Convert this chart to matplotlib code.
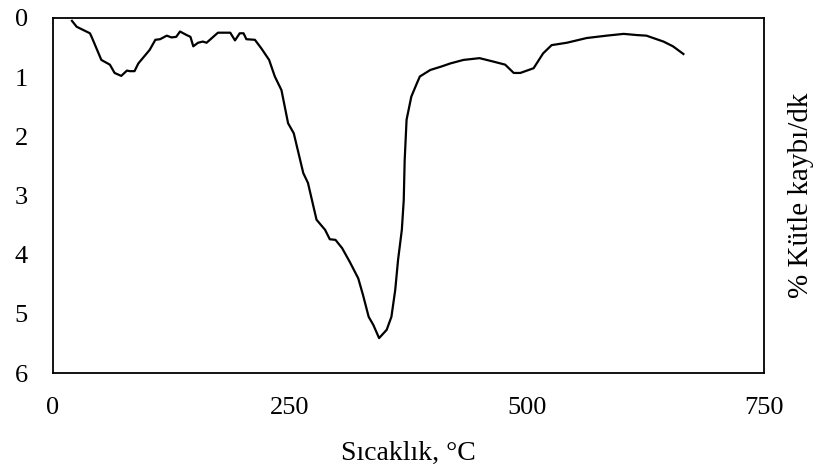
import matplotlib
matplotlib.use("Agg")
import matplotlib.pyplot as plt

# DTG curve
temp = [20, 25, 39, 41, 51, 60, 65, 72, 78, 81,
        86, 90, 102, 108, 113, 120, 125, 130, 134, 141,
        145, 148, 153, 158, 162, 174, 187, 192, 197, 201,
        204, 213, 220, 228, 234, 241, 248, 254, 264, 269,
        278, 287, 292, 298, 305, 313, 322, 327, 333, 338,
        344, 352, 357, 361, 364, 368, 370, 371, 373, 378,
        384, 387, 398, 410, 419, 433, 450, 465, 477, 486,
        493, 507, 517, 526, 542, 563, 584, 602, 616, 626,
        644, 654, 665]
rate = [0.05, 0.15, 0.26, 0.33, 0.71, 0.79, 0.93, 0.98, 0.89, 0.90,
        0.90, 0.77, 0.54, 0.37, 0.36, 0.30, 0.33, 0.32, 0.23, 0.29,
        0.32, 0.48, 0.42, 0.40, 0.42, 0.25, 0.25, 0.38, 0.26, 0.26,
        0.36, 0.37, 0.52, 0.71, 0.99, 1.22, 1.78, 1.95, 2.62, 2.79,
        3.41, 3.58, 3.74, 3.75, 3.89, 4.12, 4.40, 4.68, 5.05, 5.19,
        5.41, 5.27, 5.05, 4.60, 4.09, 3.58, 3.08, 2.40, 1.72, 1.33,
        1.10, 0.99, 0.88, 0.82, 0.77, 0.71, 0.68, 0.74, 0.79, 0.93,
        0.93, 0.85, 0.60, 0.46, 0.42, 0.34, 0.30, 0.27, 0.29, 0.30,
        0.40, 0.48, 0.61]

xticks = [0, 250, 500, 750]
yticks = [0, 1, 2, 3, 4, 5, 6]

plt.rcParams["font.family"] = ["Liberation Serif", "DejaVu Serif"]

fig = plt.figure(figsize=(8.19, 4.71), dpi=100)
ax = fig.add_axes([0.0647, 0.208, 0.8681, 0.754])

ax.plot(temp, rate, color="black", lw=1.6)

ax.set_xlim(0, 750)
ax.set_ylim(6, 0)
ax.set_xticks(xticks)
ax.set_yticks(yticks)
ax.tick_params(length=0, labelsize=19)
ax.tick_params(axis="x", pad=17)
ax.tick_params(axis="y", pad=18)

for s in ax.spines.values():
    s.set_linewidth(1.3)

ax.set_xlabel("Sıcaklık, °C", fontsize=20, labelpad=16)
ax.yaxis.set_label_position("right")
ax.set_ylabel("% Kütle kaybı/dk", fontsize=21, labelpad=17)

fig.savefig("out.png", dpi=100)
